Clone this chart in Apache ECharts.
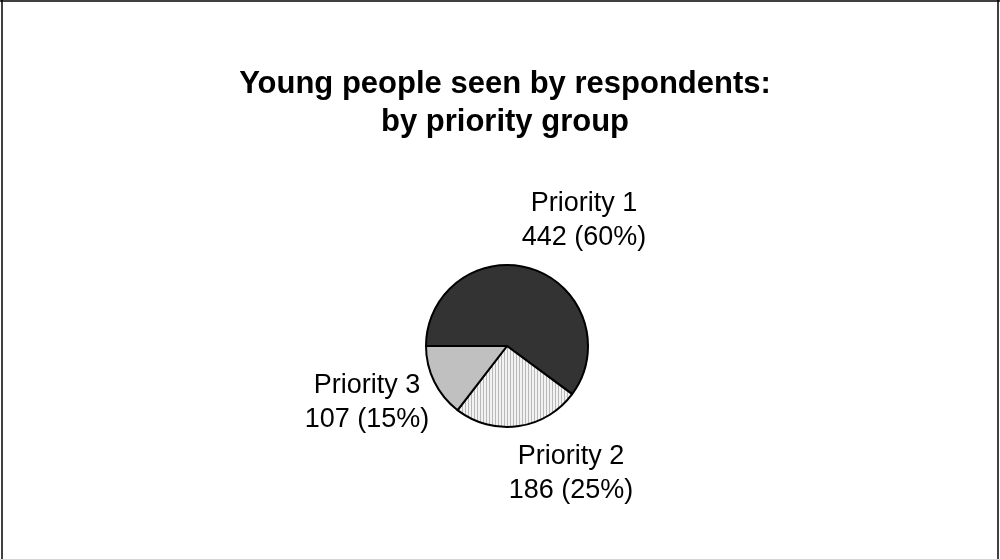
<!DOCTYPE html>
<html>
<head>
<meta charset="utf-8">
<script src="https://cdn.jsdelivr.net/npm/echarts@6/dist/echarts.min.js"></script>
<style>
html,body{margin:0;padding:0;background:#fff;}
#chart{width:1000px;height:559px;}
</style>
</head>
<body>
<div id="chart"></div>
<script>
const titleLines = ['Young people seen by respondents:', 'by priority group'];
const categories = ['Priority 1', 'Priority 2', 'Priority 3'];
const values = [442, 186, 107];

// styling (not data)
const labelPos = [[584, 221], [571, 474], [367, 403]];

function hatch() {
  const c = document.createElement('canvas');
  c.width = 3; c.height = 3;
  const g = c.getContext('2d');
  g.fillStyle = '#f2f2f2'; g.fillRect(0, 0, 3, 3);
  g.fillStyle = '#b8b8b8'; g.fillRect(0, 0, 1, 3);
  return c;
}
const fills = ['#333333', { image: hatch(), repeat: 'repeat' }, '#c0c0c0'];

const total = values.reduce((a, b) => a + b, 0);
const chart = echarts.init(document.getElementById('chart'), null, { renderer: 'canvas' });
chart.setOption({
  backgroundColor: '#ffffff',
  animation: false,
  title: {
    text: titleLines.join('\n'),
    left: 500,
    top: 60,
    textAlign: 'center',
    textStyle: {
      fontFamily: 'Liberation Sans, Arial, sans-serif',
      fontWeight: 'bold',
      fontSize: 31,
      lineHeight: 38,
      align: 'center',
      color: '#000'
    }
  },
  graphic: [
    { type: 'line', shape: { x1: 0, y1: 1, x2: 1000, y2: 1 }, style: { stroke: '#000', lineWidth: 1.5 } },
    { type: 'line', shape: { x1: 2, y1: 0, x2: 2, y2: 559 }, style: { stroke: '#000', lineWidth: 1.5 } },
    { type: 'line', shape: { x1: 998, y1: 0, x2: 998, y2: 559 }, style: { stroke: '#000', lineWidth: 1.5 } }
  ],
  series: [{
    type: 'pie',
    center: [507, 346],
    radius: [0, 81],
    startAngle: 180,
    clockwise: true,
    avoidLabelOverlap: false,
    itemStyle: { borderColor: '#000', borderWidth: 2 },
    label: {
      show: true,
      position: 'outside',
      fontFamily: 'Liberation Sans, Arial, sans-serif',
      fontSize: 27,
      lineHeight: 34,
      color: '#000',
      align: 'center',
      formatter: p => p.name + '\n' + p.value + ' (' + Math.round(p.value / total * 100) + '%)'
    },
    labelLine: { show: false },
    labelLayout: p => ({ x: labelPos[p.dataIndex][0], y: labelPos[p.dataIndex][1], align: 'center', verticalAlign: 'middle' }),
    emphasis: { disabled: true },
    data: categories.map((n, i) => ({ name: n, value: values[i], itemStyle: { color: fills[i] } }))
  }]
});
</script>
</body>
</html>
